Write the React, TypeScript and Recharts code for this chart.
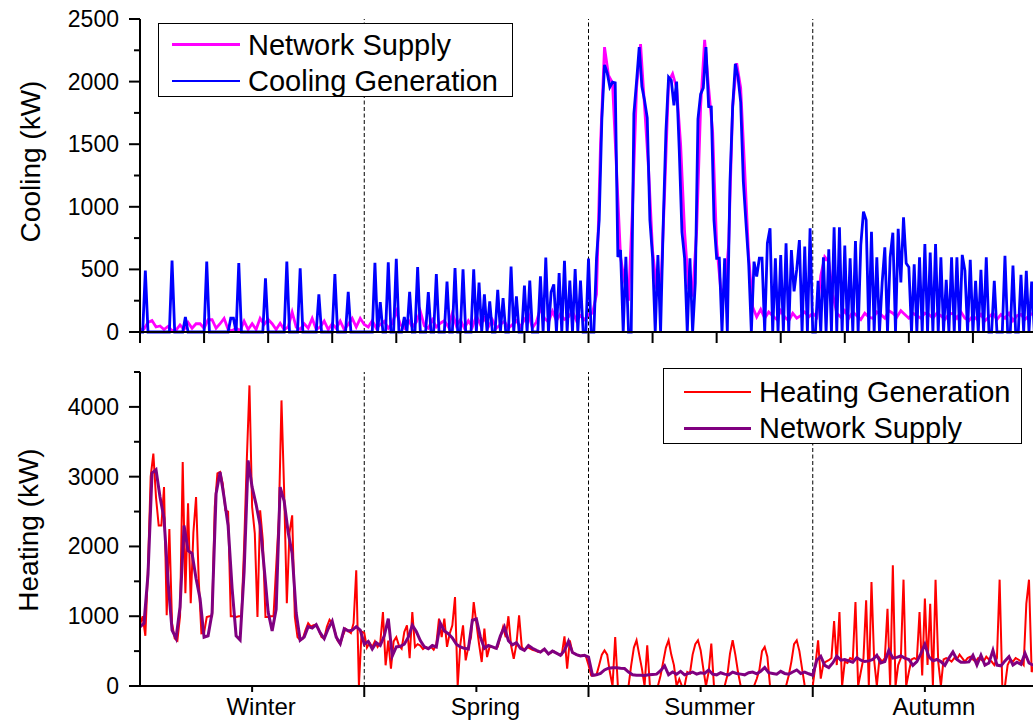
import React from "react";
import { LineChart, Line, XAxis, YAxis, ReferenceLine, Legend } from "recharts";

const FONT = "'Liberation Sans', Arial, Helvetica, sans-serif";

// x axis is in hours: one representative week (168 h) per season
const SEASONS = ["Winter", "Spring", "Summer", "Autumn"];
const SEASON_EDGES = [168, 336, 504];
const HOUR_TICKS = [0, 48, 96, 144, 192, 240, 288, 336, 384, 432, 480, 528, 576, 624, 672];
const SEASON_TICKS = [84, 168, 252, 336, 420, 504, 588, 672];
const COOLING_TICKS = [0, 250, 500, 750, 1000, 1250, 1500, 1750, 2000, 2250, 2500];
const HEATING_TICKS = [0, 500, 1000, 1500, 2000, 2500, 3000, 3500, 4000, 4500];

// cooling generation (kW), 2 h steps
const coolGenWinter = [
  0, 0, 490, 0, 0, 0, 0, 0, 0, 0, 0, 0,
  570, 0, 0, 0, 0, 120, 0, 0, 0, 0, 0, 0,
  0, 562, 0, 0, 0, 0, 0, 0, 0, 0, 110, 110,
  0, 550, 0, 0, 0, 0, 0, 0, 0, 0, 0, 428,
  0, 0, 0, 0, 0, 0, 0, 562, 0, 0, 0, 0,
  508, 0, 0, 0, 0, 0, 0, 300, 0, 0, 0, 0,
  0, 463, 0, 0, 0, 0, 321, 0, 0, 0, 0, 0,
];
const coolGenSpring = [
  0, 0, 0, 0, 552, 0, 238, 0, 0, 556, 0, 0,
  585, 0, 0, 119, 0, 320, 0, 0, 518, 0, 0, 0,
  318, 0, 0, 463, 0, 0, 0, 403, 0, 0, 510, 0,
  0, 500, 0, 0, 0, 500, 0, 395, 0, 301, 0, 244,
  0, 0, 337, 0, 271, 0, 0, 523, 0, 284, 0, 0,
  371, 0, 410, 0, 0, 0, 445, 0, 595, 0, 320, 380,
  0, 470, 0, 569, 0, 410, 0, 502, 0, 410, 0, 0,
];
const coolGenSummer = [
  586, 0, 0, 589, 894, 1700, 2134, 2070, 1956, 1995, 1990, 600,
  655, 0, 600, 0, 0, 1744, 2000, 2275, 1960, 1850, 1710, 894,
  600, 0, 615, 0, 868, 1600, 2036, 2010, 1810, 2000, 1450, 800,
  589, 0, 589, 0, 390, 1700, 1900, 1950, 2275, 1800, 1797, 894,
  589, 589, 0, 589, 0, 1200, 1798, 2142, 2036, 1837, 1200, 868,
  549, 0, 562, 443, 589, 589, 0, 709, 828, 0, 589, 0,
  615, 0, 709, 0, 655, 324, 500, 734, 0, 682, 0, 828,
];
const coolGenAutumn = [
  0, 0, 409, 0, 597, 0, 661, 0, 836, 0, 836, 0,
  690, 0, 589, 0, 727, 0, 695, 961, 894, 0, 801, 0,
  597, 0, 395, 677, 0, 597, 793, 0, 825, 395, 916, 549,
  518, 0, 541, 0, 597, 0, 703, 0, 634, 0, 703, 0,
  597, 0, 417, 0, 597, 0, 597, 0, 616, 491, 0, 576,
  0, 409, 0, 496, 0, 597, 0, 0, 409, 0, 0, 0,
  608, 0, 0, 531, 0, 0, 456, 0, 488, 0, 403, 0,
  0,
];

// cooling network supply (kW), 3 h steps
const coolNetWinter = [
  20, 25, 77, 92, 40, 48, 20, 45, 10, 15,
  56, 20, 77, 30, 66, 66, 30, 98, 98, 30,
  66, 109, 20, 10, 30, 10, 87, 20, 66, 20,
  109, 60, 100, 66, 20, 70, 20, 40, 159, 40,
  20, 66, 30, 109, 20, 40, 87, 20, 66, 30,
  87, 20, 61, 109, 40, 109,
];
const coolNetSpring = [
  60, 40, 90, 30, 60, 85, 30, 70, 165, 60,
  30, 98, 40, 80, 165, 50, 30, 98, 40, 70,
  90, 40, 151, 50, 98, 30, 90, 40, 130, 60,
  110, 40, 98, 30, 60, 85, 30, 60, 90, 40,
  100, 145, 32, 80, 191, 110, 80, 165, 90, 145,
  100, 120, 165, 90, 130, 98,
];
const coolNetSummer = [
  140, 150, 300, 1500, 2275, 2050, 1990, 1300, 600, 400,
  250, 1000, 1950, 2300, 1800, 1300, 650, 350, 300, 1100,
  2000, 2063, 1950, 1500, 800, 350, 300, 800, 1800, 2334,
  1950, 1600, 700, 350, 300, 700, 1800, 2147, 1950, 1300,
  600, 200, 120, 180, 110, 160, 130, 100, 170, 120,
  90, 150, 110, 130, 160, 120,
];
const coolNetAutumn = [
  150, 120, 450, 600, 560, 300, 150, 120, 170, 110,
  160, 130, 100, 150, 120, 110, 160, 140, 110, 170,
  150, 120, 170, 140, 110, 150, 130, 110, 150, 140,
  110, 150, 130, 100, 140, 150, 110, 160, 110, 90,
  130, 100, 140, 90, 120, 150, 100, 140, 110, 150,
  90, 130, 140, 100, 130, 150, 120,
];

// heating generation (kW), 2 h steps
const heatGenWinter = [
  880, 1000, 720, 1700, 3000, 3330, 2700, 2300, 2300, 2850, 1013, 2250,
  900, 680, 650, 1000, 3210, 1330, 2617, 1185, 2200, 2708, 1514, 755,
  760, 989, 1000, 1000, 2565, 3047, 3066, 2900, 2517, 2500, 1000, 1000,
  990, 1000, 1000, 2000, 3233, 4308, 2565, 2188, 989, 2517, 2087, 989,
  989, 1000, 1000, 1700, 2400, 4093, 2780, 1185, 2200, 2445, 989, 700,
  655, 680, 800, 900, 850, 870, 880, 800, 700, 680, 850, 950,
  900, 780, 650, 600, 720, 820, 790, 760, 900, 1657, 0, 780,
];
const heatGenSpring = [
  760, 550, 620, 560, 640, 560, 620, 1060, 297, 650, 249, 640,
  700, 580, 535, 774, 870, 400, 1060, 560, 600, 580, 530, 560,
  540, 560, 520, 600, 965, 700, 965, 560, 750, 870, 1275, 0,
  600, 870, 367, 560, 700, 1203, 900, 600, 344, 822, 415, 570,
  560, 540, 560, 700, 845, 700, 1000, 580, 390, 600, 1012, 560,
  510, 560, 540, 520, 510, 490, 486, 520, 500, 460, 480, 500,
  470, 450, 450, 711, 248, 654, 480, 460, 440, 430, 440, 430,
];
const heatGenSummer = [
  300, 153, 150, 160, 300, 450, 510, 450, 200, 0, 702, 0,
  0, 0, 0, 0, 300, 550, 654, 450, 250, 0, 582, 0,
  0, 0, 0, 150, 350, 550, 654, 450, 300, 0, 100, 0,
  0, 200, 180, 450, 600, 655, 513, 250, 0, 200, 608, 0,
  0, 0, 0, 0, 150, 465, 655, 450, 200, 0, 0, 0,
  0, 0, 0, 100, 227, 500, 560, 420, 0, 0, 0, 0,
  0, 0, 0, 150, 350, 600, 655, 500, 250, 0, 0, 0,
];
const heatGenAutumn = [
  0, 300, 655, 105, 320, 350, 370, 400, 931, 300, 1060, 0,
  350, 330, 400, 380, 1203, 0, 200, 400, 1227, 0, 1490, 370,
  0, 400, 350, 400, 1108, 0, 1729, 0, 300, 400, 1524, 0,
  200, 380, 400, 380, 1060, 150, 1252, 300, 1179, 0, 1524, 350,
  0, 380, 400, 380, 350, 400, 380, 450, 400, 350, 400, 420,
  380, 350, 400, 380, 350, 420, 380, 350, 300, 400, 1524, 0,
  0, 300, 380, 350, 400, 380, 350, 300, 1179, 1524, 200, 300,
  350,
];

// heating network supply (kW), 3 h steps
const heatNetWinter = [
  845, 900, 1600, 3050, 3100, 2708, 2400, 1500, 800, 683,
  1132, 2300, 1940, 1900, 1540, 1250, 700, 720, 1050, 2757,
  3066, 2700, 2300, 1400, 720, 660, 1640, 3233, 2850, 2600,
  2300, 1700, 1060, 790, 1100, 2851, 2650, 2200, 1900, 1050,
  655, 700, 850, 830, 880, 760, 680, 820, 930, 700,
  607, 820, 790, 800, 850, 800,
];
const heatNetSpring = [
  600, 640, 530, 620, 580, 720, 965, 430, 560, 570,
  600, 700, 870, 780, 650, 560, 534, 580, 560, 900,
  790, 750, 690, 600, 560, 540, 530, 942, 960, 700,
  540, 580, 560, 540, 720, 846, 650, 590, 620, 540,
  510, 580, 540, 510, 486, 530, 460, 500, 470, 440,
  510, 640, 480, 450, 430, 440,
];
const heatNetSummer = [
  415, 153, 160, 180, 230, 255, 263, 263, 255, 250,
  200, 160, 155, 155, 150, 160, 165, 170, 220, 290,
  160, 200, 170, 210, 160, 180, 200, 170, 190, 180,
  230, 170, 160, 190, 170, 160, 200, 180, 170, 160,
  190, 200, 175, 210, 265, 190, 180, 170, 210, 180,
  170, 200, 230, 180, 200, 175,
];
const heatNetAutumn = [
  155, 369, 426, 296, 265, 330, 426, 370, 380, 360,
  340, 407, 370, 350, 360, 380, 440, 330, 350, 511,
  400, 410, 430, 400, 380, 296, 350, 464, 597, 420,
  360, 380, 350, 296, 400, 488, 380, 340, 340, 345,
  440, 300, 440, 300, 330, 511, 300, 290, 360, 420,
  300, 340, 310, 470, 330, 300, 320,
];

type Point = { hour: number; value: number };

const toSeries = (parts: number[][], step: number): Point[] =>
  parts.flat().map((value, i) => ({ hour: i * step, value }));

const coolingGeneration = toSeries([coolGenWinter, coolGenSpring, coolGenSummer, coolGenAutumn], 2);
const coolingSupply = toSeries([coolNetWinter, coolNetSpring, coolNetSummer, coolNetAutumn], 3);
const heatingGeneration = toSeries([heatGenWinter, heatGenSpring, heatGenSummer, heatGenAutumn], 2);
const heatingSupply = toSeries([heatNetWinter, heatNetSpring, heatNetSummer, heatNetAutumn], 3);

const AXIS = { stroke: "#000", strokeWidth: 2 };

// y ticks: long tick + label on majors, short tick on minors
const ValueTick = (props: any) => {
  const { x, y, payload, major } = props;
  const isMajor = payload.value % major === 0;
  return (
    <g>
      <line x1={x - (isMajor ? 11 : 6)} x2={x} y1={y} y2={y} stroke="#000" strokeWidth={2} />
      {isMajor && (
        <text x={x - 21} y={y} dy={8} textAnchor="end" fontSize={23} fontFamily={FONT} fill="#000">
          {payload.value}
        </text>
      )}
    </g>
  );
};

const HourTick = (props: any) => {
  const { x, y } = props;
  return <line x1={x} x2={x} y1={y} y2={y + 11} stroke="#000" strokeWidth={2} />;
};

const SeasonTick = (props: any) => {
  const { x, y, payload } = props;
  const edge = payload.value % 168 === 0;
  return (
    <g>
      <line x1={x} x2={x} y1={y} y2={y + (edge ? 11 : 6)} stroke="#000" strokeWidth={2} />
      {!edge && (
        <text x={x + 9} y={y + 29} textAnchor="middle" fontSize={24} fontFamily={FONT} fill="#000">
          {SEASONS[Math.floor(payload.value / 168)]}
        </text>
      )}
    </g>
  );
};

const AxisTitle = (props: any) => {
  const { viewBox, text, cx, dy } = props;
  const x = viewBox.x + cx;
  const y = viewBox.y + viewBox.height / 2 + dy;
  return (
    <text
      x={x}
      y={y}
      transform={`rotate(-90, ${x}, ${y})`}
      textAnchor="middle"
      dominantBaseline="central"
      fontSize={28}
      fontFamily={FONT}
      fill="#000"
    >
      {text}
    </text>
  );
};

type LegendLayout = {
  width: number;
  height: number;
  rows: number[];
  lineX: number;
  lineW: number;
  textX: number;
  order: string[];
};

const LegendBox = ({ payload, layout }: { payload?: any[]; layout: LegendLayout }) => {
  const items = [...(payload || [])].sort(
    (a, b) => layout.order.indexOf(a.value) - layout.order.indexOf(b.value)
  );
  return (
    <div
      style={{
        position: "relative",
        width: layout.width,
        height: layout.height,
        border: "1px solid #000",
        boxSizing: "border-box",
        background: "#fff",
        fontFamily: FONT,
      }}
    >
      {items.map((item, i) => {
        const sw = item.payload?.strokeWidth ?? 2.5;
        return (
          <React.Fragment key={item.value}>
            <div
              style={{
                position: "absolute",
                left: layout.lineX,
                width: layout.lineW,
                top: layout.rows[i] - sw / 2,
                height: sw,
                background: item.color,
              }}
            />
            <span
              style={{
                position: "absolute",
                left: layout.textX,
                top: layout.rows[i],
                transform: "translateY(-50%)",
                fontSize: 29,
                lineHeight: 1,
                whiteSpace: "nowrap",
                color: "#000",
              }}
            >
              {item.value}
            </span>
          </React.Fragment>
        );
      })}
    </div>
  );
};

const coolingLegend: LegendLayout = {
  width: 355,
  height: 74,
  rows: [20.5, 57],
  lineX: 13,
  lineW: 68,
  textX: 89,
  order: ["Network Supply", "Cooling Generation"],
};

const heatingLegend: LegendLayout = {
  width: 359,
  height: 76,
  rows: [22.5, 59],
  lineX: 20,
  lineW: 67,
  textX: 95,
  order: ["Heating Generation", "Network Supply"],
};

function CoolingPanel() {
  return (
    <LineChart width={1050} height={346} margin={{ top: 19, right: 13, bottom: 0, left: 0 }}>
      <XAxis
        type="number"
        dataKey="hour"
        domain={[0, 672]}
        ticks={HOUR_TICKS}
        interval={0}
        height={14}
        tickSize={0}
        tickMargin={0}
        tickLine={false}
        axisLine={AXIS}
        tick={HourTick}
      />
      <YAxis
        type="number"
        domain={[0, 2500]}
        ticks={COOLING_TICKS}
        interval={0}
        width={140}
        tickSize={0}
        tickMargin={0}
        tickLine={false}
        axisLine={AXIS}
        tick={(p: any) => <ValueTick {...p} major={500} />}
        label={<AxisTitle text="Cooling (kW)" cx={30} dy={-14} />}
      />
      {SEASON_EDGES.map((h) => (
        <ReferenceLine key={h} x={h} stroke="#000" strokeWidth={1} strokeDasharray="4 2.5" />
      ))}
      <Line
        data={coolingSupply}
        dataKey="value"
        name="Network Supply"
        type="linear"
        stroke="#ff00ff"
        strokeWidth={2.8}
        dot={false}
        activeDot={false}
        isAnimationActive={false}
      />
      <Line
        data={coolingGeneration}
        dataKey="value"
        name="Cooling Generation"
        type="linear"
        stroke="#0000ff"
        strokeWidth={2.8}
        dot={false}
        activeDot={false}
        isAnimationActive={false}
      />
      <Legend
        layout="vertical"
        align="center"
        verticalAlign="middle"
        wrapperStyle={{ left: 158, top: 23 }}
        content={(p: any) => <LegendBox payload={p.payload} layout={coolingLegend} />}
      />
    </LineChart>
  );
}

function HeatingPanel() {
  return (
    <LineChart width={1050} height={373} margin={{ top: 22, right: 13, bottom: 0, left: 0 }}>
      <XAxis
        type="number"
        dataKey="hour"
        domain={[0, 672]}
        ticks={SEASON_TICKS}
        interval={0}
        height={37}
        tickSize={0}
        tickMargin={0}
        tickLine={false}
        axisLine={AXIS}
        tick={SeasonTick}
      />
      <YAxis
        type="number"
        domain={[0, 4500]}
        ticks={HEATING_TICKS}
        interval={0}
        width={140}
        tickSize={0}
        tickMargin={0}
        tickLine={false}
        axisLine={AXIS}
        tick={(p: any) => <ValueTick {...p} major={1000} />}
        label={<AxisTitle text="Heating (kW)" cx={28} dy={1} />}
      />
      {SEASON_EDGES.map((h) => (
        <ReferenceLine key={h} x={h} stroke="#000" strokeWidth={1} strokeDasharray="4 2.5" />
      ))}
      <Line
        data={heatingGeneration}
        dataKey="value"
        name="Heating Generation"
        type="linear"
        stroke="#ff0000"
        strokeWidth={2}
        dot={false}
        activeDot={false}
        isAnimationActive={false}
      />
      <Line
        data={heatingSupply}
        dataKey="value"
        name="Network Supply"
        type="linear"
        stroke="#800080"
        strokeWidth={3}
        dot={false}
        activeDot={false}
        isAnimationActive={false}
      />
      <Legend
        layout="vertical"
        align="center"
        verticalAlign="middle"
        wrapperStyle={{ left: 663, top: 18 }}
        content={(p: any) => <LegendBox payload={p.payload} layout={heatingLegend} />}
      />
    </LineChart>
  );
}

export default function App() {
  return (
    <div
      style={{
        position: "fixed",
        left: 0,
        top: 0,
        width: 1033,
        height: 723,
        overflow: "hidden",
        background: "#fff",
        fontFamily: FONT,
      }}
    >
      <div style={{ position: "absolute", left: 0, top: 0 }}>
        <CoolingPanel />
      </div>
      <div style={{ position: "absolute", left: 0, top: 350 }}>
        <HeatingPanel />
      </div>
    </div>
  );
}
